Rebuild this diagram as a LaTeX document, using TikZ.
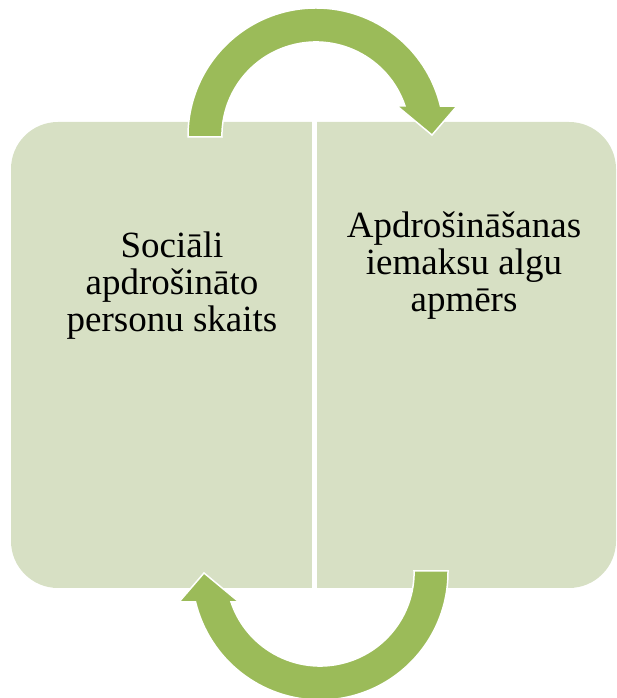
\documentclass[tikz,border=0pt]{standalone}
\usepackage{fontspec}
\setmainfont{Liberation Serif}
\usepackage{tikz}
\definecolor{boxgreen}{HTML}{D7E0C4}
\definecolor{arrowgreen}{HTML}{9BBB59}
\begin{document}
\begin{tikzpicture}[x=1pt,y=1pt,
  cyclearrow/.style={fill=arrowgreen,draw=white,line width=1.5pt},
  boxtext/.style={font=\fontsize{37}{37}\selectfont,align=center,inner sep=0pt}]
  \useasboundingbox (0,0) rectangle (616,698);
  % the two halves
  \fill[boxgreen,rounded corners=47pt] (11,110) rectangle (616,576);
  \fill[white] (312,100) rectangle (317,590);
  % texts
  \node[boxtext] (persons) at (172,412) {Sociāli\\apdrošināto\\personu skaits};
  \node[boxtext] (wages) at (464,432) {Apdrošināšanas\\iemaksu algu\\apmērs};
  % top arrow
  \draw[cyclearrow] (188,561) -- (188,562) arc[start angle=180,end angle=13.5,radius=128]
    -- (457,592) -- (432,563) -- (397,592) -- (405,592)
    arc[start angle=18.6,end angle=180,radius=94] -- (222,561) -- cycle;
  % bottom arrow, turned half round
  \begin{scope}[rotate around={180:(318,344)}]
    \draw[cyclearrow] (188,561) -- (188,562) arc[start angle=180,end angle=13.5,radius=128]
      -- (457,592) -- (432,563) -- (397,592) -- (405,592)
      arc[start angle=18.6,end angle=180,radius=94] -- (222,561) -- cycle;
  \end{scope}
\end{tikzpicture}
\end{document}
